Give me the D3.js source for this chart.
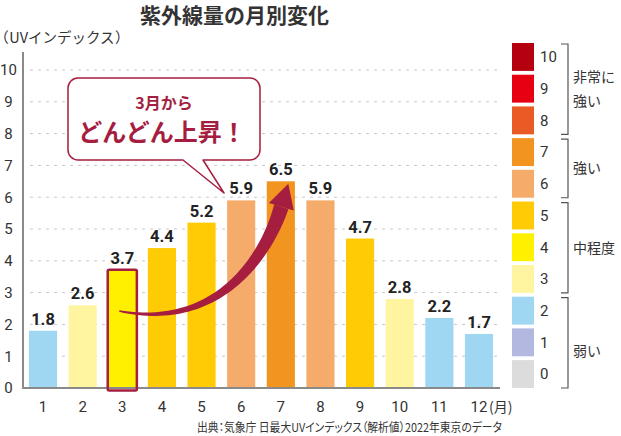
<!DOCTYPE html>
<html><head><meta charset="utf-8">
<script src="https://cdn.jsdelivr.net/npm/d3@7"></script>
<style>
html,body{margin:0;padding:0;background:#fff;}
svg{display:block;}
.palt{font-feature-settings:"palt";}
</style></head>
<body>
<svg id="chart" width="621" height="436"></svg>
<script>
// ---- data ----
const months = [1,2,3,4,5,6,7,8,9,10,11,12];
const uvValues = [1.8,2.6,3.7,4.4,5.2,5.9,6.5,5.9,4.7,2.8,2.2,1.7];
const barLevels = [2,3,4,5,5,6,7,6,5,3,2,2];
const yTicks = [0,1,2,3,4,5,6,7,8,9,10];
const legendLevels = [10,9,8,7,6,5,4,3,2,1,0];
const levelColors = ["#dcdcdc","#b2b8df","#9fd6f2","#fff4a0","#fff000","#ffcb05","#f5ac6a","#f29420","#e95a24","#e60012","#b5000f"];
const legendGroups = [
  {levels:[10,9,8], label:["非常に","強い"]},
  {levels:[7,6], label:["強い"]},
  {levels:[5,4,3], label:["中程度"]},
  {levels:[2,1,0], label:["弱い"]}
];
const titleText = "紫外線量の月別変化";
const yLabelParts = ["（","UVインデックス","）"];
const monthUnit = "(月)";
const sourceText = "出典：気象庁 日最大UVインデックス（解析値）2022年東京のデータ";
const calloutLines = ["3月から","どんどん上昇！"];
const highlightMonth = 3;
const arrowTo = 7;

// ---- setup ----
const svg = d3.select("#chart");
const JP = "'Noto Sans CJK JP','Noto Sans',sans-serif";
const NUM = "Roboto,'Noto Sans',sans-serif";
const accent = "#a51e3f";
const ink = "#333";

const x = d3.scaleBand().domain(months).range([23, 499]).paddingInner(0.29).paddingOuter(0.15);
const y = d3.scaleLinear().domain([0,10]).range([388, 70]);
const bw = x.bandwidth();
const xc = m => x(m) + bw/2;

// title
svg.append("text").attr("x",140).attr("y",23)
  .attr("font-family",JP).attr("font-weight",700).attr("font-size",21)
  .attr("fill",ink).text(titleText);

// y label
{
  const t = svg.append("text").attr("x",1).attr("y",43)
    .attr("font-family",JP).attr("font-size",14.5).attr("fill",ink);
  t.append("tspan").attr("class","palt").text(yLabelParts[0]);
  t.append("tspan").attr("dx",1).text(yLabelParts[1]);
  t.append("tspan").attr("class","palt").attr("dx",1).text(yLabelParts[2]);
}

// gridlines
svg.append("g").selectAll("line").data(yTicks.filter(d=>d>0)).join("line")
  .attr("x1",30).attr("x2",500)
  .attr("y1",d=>y(d)).attr("y2",d=>y(d))
  .attr("stroke","#c8c8c8").attr("stroke-width",1).attr("stroke-dasharray","3,5");

// y tick labels
svg.append("g").selectAll("text").data(yTicks).join("text")
  .attr("x",8.5).attr("y",d=>y(d)).attr("dy","0.36em")
  .attr("text-anchor","middle")
  .attr("font-family",NUM).attr("font-size",15).attr("fill",ink)
  .text(d=>d);

// bars
svg.append("g").selectAll("rect").data(months).join("rect")
  .attr("x",d=>x(d)).attr("width",bw)
  .attr("y",(d,i)=>y(uvValues[i])).attr("height",(d,i)=>y(0)-y(uvValues[i]))
  .attr("fill",(d,i)=>levelColors[barLevels[i]]);

// axes lines
svg.append("line").attr("x1",23).attr("x2",23).attr("y1",52).attr("y2",389)
  .attr("stroke","#8a8a8a").attr("stroke-width",2);
svg.append("line").attr("x1",22).attr("x2",500).attr("y1",388).attr("y2",388)
  .attr("stroke","#8a8a8a").attr("stroke-width",2);

// highlight bar 3
const hi = months.indexOf(highlightMonth);
svg.append("rect")
  .attr("x",x(highlightMonth)-0.5).attr("width",bw+1)
  .attr("y",y(uvValues[hi])-0.5).attr("height",y(0)-y(uvValues[hi])+3)
  .attr("rx",1.5)
  .attr("fill","none").attr("stroke",accent).attr("stroke-width",2.5);

// value labels
svg.append("g").selectAll("text").data(months).join("text")
  .attr("x",d=>xc(d)).attr("y",(d,i)=>y(uvValues[i])-6)
  .attr("text-anchor","middle")
  .attr("font-family",NUM).attr("font-weight",700).attr("font-size",16.5).attr("fill","#222")
  .text((d,i)=>uvValues[i].toFixed(1));

// month labels
svg.append("g").selectAll("text").data(months).join("text")
  .attr("x",d=>xc(d)).attr("y",412)
  .attr("text-anchor","middle")
  .attr("font-family",NUM).attr("font-size",15).attr("fill",ink)
  .text(d=>d);
svg.append("text").attr("x",xc(12)+10).attr("y",412)
  .attr("font-family",JP).attr("font-size",14).attr("fill",ink).text(monthUnit);

// source
svg.append("text").attr("class","palt").attr("x",502).attr("y",432).attr("text-anchor","end")
  .attr("font-family",JP).attr("font-size",12).attr("fill",ink)
  .attr("textLength",305).attr("lengthAdjust","spacingAndGlyphs")
  .text(sourceText);

// ---- arrow ----
{
  const S = [xc(highlightMonth)-3, y(2.42)];
  const E = [xc(arrowTo)+0.5, y(5.7)];
  const C1 = [xc(highlightMonth)+95, y(1.82)];
  const C2 = [xc(arrowTo)-15, y(4.1)];
  const bez = (t,a,b,c,d)=> (1-t)**3*a + 3*(1-t)**2*t*b + 3*(1-t)*t*t*c + t**3*d;
  const dbez = (t,a,b,c,d)=> 3*(1-t)**2*(b-a) + 6*(1-t)*t*(c-b) + 3*t*t*(d-c);
  const N = 60, left=[], right=[];
  let dirEnd;
  for(let i=0;i<=N;i++){
    const t=i/N;
    const px=bez(t,S[0],C1[0],C2[0],E[0]), py=bez(t,S[1],C1[1],C2[1],E[1]);
    let tx=dbez(t,S[0],C1[0],C2[0],E[0]), ty=dbez(t,S[1],C1[1],C2[1],E[1]);
    const L=Math.hypot(tx,ty); tx/=L; ty/=L;
    if(i===N) dirEnd=[tx,ty];
    const w = 0.8 + 6.7*Math.pow(t,0.9);
    left.push([px - ty*w, py + tx*w]);
    right.push([px + ty*w, py - tx*w]);
  }
  const body = left.concat(right.reverse());
  svg.append("path").attr("d", d3.line()(body)+"Z").attr("fill",accent);
  const hw=13, hl=24;
  const nx=-dirEnd[1], ny=dirEnd[0];
  const head=[[E[0]+nx*hw, E[1]+ny*hw],[E[0]+dirEnd[0]*hl, E[1]+dirEnd[1]*hl],[E[0]-nx*hw, E[1]-ny*hw]];
  svg.append("path").attr("d", d3.line()(head)+"Z").attr("fill",accent);
}

// ---- callout ----
{
  const bx=68, by=78, bwid=192, bh=82, r=10;
  const t1=183, t2=203, tip=[224,193];
  const p = d3.path();
  p.moveTo(bx+r,by);
  p.lineTo(bx+bwid-r,by); p.arcTo(bx+bwid,by,bx+bwid,by+r,r);
  p.lineTo(bx+bwid,by+bh-r); p.arcTo(bx+bwid,by+bh,bx+bwid-r,by+bh,r);
  p.lineTo(t2,by+bh); p.lineTo(tip[0],tip[1]); p.lineTo(t1,by+bh);
  p.lineTo(bx+r,by+bh); p.arcTo(bx,by+bh,bx,by+bh-r,r);
  p.lineTo(bx,by+r); p.arcTo(bx,by,bx+r,by,r);
  p.closePath();
  svg.append("path").attr("d",p.toString()).attr("fill","#fff")
    .attr("stroke",accent).attr("stroke-width",1.5).attr("stroke-linejoin","round");
  const cx = bx+bwid/2;
  svg.append("text").attr("x",cx).attr("y",109).attr("text-anchor","middle")
    .attr("font-family",JP).attr("font-weight",700).attr("font-size",16).attr("fill",accent)
    .text(calloutLines[0]);
  svg.append("text").attr("x",cx-2).attr("y",141).attr("text-anchor","middle")
    .attr("font-family",JP).attr("font-weight",700).attr("font-size",24).attr("fill",accent)
    .text(calloutLines[1]);
}

// ---- legend ----
const ly = d3.scaleBand().domain(legendLevels).range([43,388]).paddingInner(0.12);
const lg = svg.append("g");
lg.selectAll("rect").data(legendLevels).join("rect")
  .attr("x",512).attr("width",22)
  .attr("y",d=>ly(d)).attr("height",ly.bandwidth())
  .attr("fill",d=>levelColors[d]);
lg.selectAll("text.num").data(legendLevels).join("text").attr("class","num")
  .attr("x",540).attr("y",d=>ly(d)+ly.bandwidth()/2).attr("dy","0.36em")
  .attr("font-family",NUM).attr("font-size",15).attr("fill",ink)
  .text(d=>d);
legendGroups.forEach((g,gi)=>{
  const top = ly(g.levels[0])+1;
  const bot = ly(g.levels[g.levels.length-1])+ly.bandwidth();
  lg.append("path").attr("d",`M561,${top}H568V${bot}H561`)
    .attr("fill","none").attr("stroke","#555").attr("stroke-width",1.2);
  let mid = (top+bot)/2;
  if(gi===3) mid += 8;
  const lh = 24;
  const n = g.label.length;
  g.label.forEach((s,k)=>{
    lg.append("text").attr("x",573).attr("y",mid + (k-(n-1)/2)*lh).attr("dy","0.36em")
      .attr("font-family",JP).attr("font-size",14).attr("fill",ink).text(s);
  });
});
</script>
</body></html>
